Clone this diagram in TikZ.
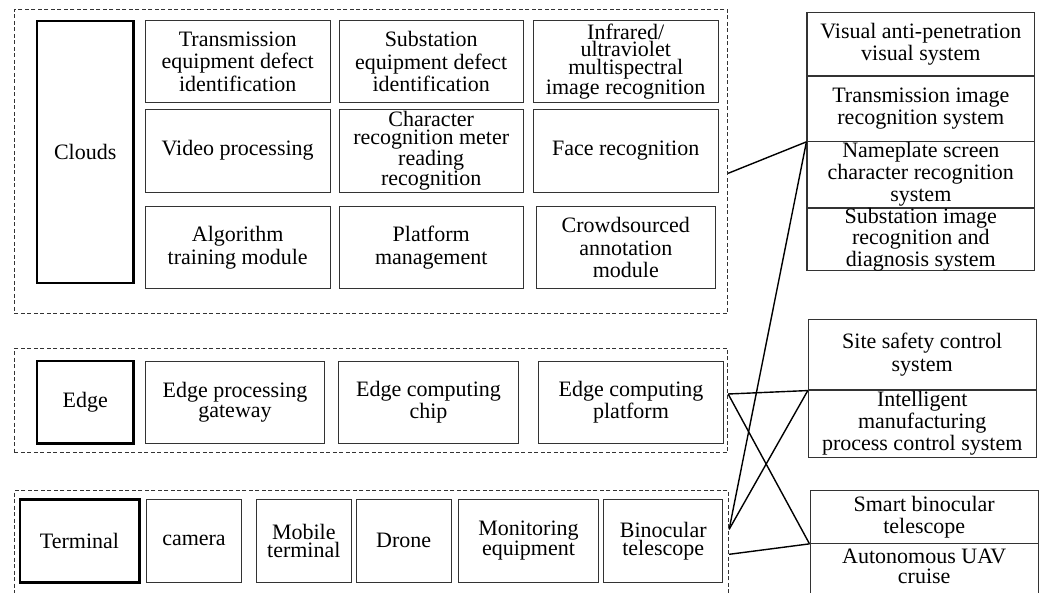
\documentclass[tikz,border=0pt]{standalone}
\usepackage{fontspec}
\setmainfont{Liberation Serif}
\begin{document}
\begin{tikzpicture}[x=1pt,y=-1pt,
  frame/.style={draw=black!80,line width=0.9pt,dash pattern=on 4pt off 2.5pt,inner sep=0pt},
  cell/.style={draw=black!80,line width=1.1pt,inner sep=0pt,align=center,
    font=\fontsize{22}{22.5}\selectfont},
  tight/.style={font=\fontsize{22}{17.6}\selectfont},
  snug/.style={font=\fontsize{22}{18}\selectfont},
  mid/.style={font=\fontsize{22}{20}\selectfont},
  tier/.style={cell,draw=black,line width=2.4pt},
  plain/.style={inner sep=0pt,align=center,font=\fontsize{22}{20}\selectfont},
  link/.style={draw=black,line width=1.4pt}]
\useasboundingbox (0,0) rectangle (1043,592);
\clip (0,0) rectangle (1043,592);

% ---------- layer frames ----------
\node[frame,minimum width=713.4pt,minimum height=303.8pt] (cloudF) at (371,161.4) {};
\node[frame,minimum width=713.4pt,minimum height=104.4pt] (edgeF) at (371,400.5) {};
\node[frame,minimum width=714.4pt,minimum height=129.3pt] (termF) at (371.5,555.35) {};

% ---------- cloud layer ----------
\node[tier,minimum width=96.3pt,minimum height=262pt] (clouds) at (85.2,152) {Clouds};

\node[cell,minimum width=184.7pt,minimum height=82pt] (c11) at (237.7,61.7)
  {Transmission\\equipment defect\\identification};
\node[cell,minimum width=184.3pt,minimum height=82pt] (c12) at (431.2,61.7)
  {Substation\\equipment defect\\identification};
\node[cell,tight,minimum width=184.7pt,minimum height=82pt] (c13) at (625.7,61.7)
  {Infrared/\\ultraviolet\\multispectral\\image recognition};

\node[cell,minimum width=184.7pt,minimum height=82.7pt] (c21) at (237.7,150.7)
  {Video processing};
\node[cell,tight,minimum width=184.3pt,minimum height=82.7pt] (c22) at (431.2,150.7)
  {Character\\recognition meter\\reading\\recognition};
\node[cell,minimum width=184.7pt,minimum height=82.7pt] (c23) at (625.7,150.7)
  {Face recognition};

\node[cell,minimum width=184.7pt,minimum height=82pt] (c31) at (237.7,247.7)
  {Algorithm\\training module};
\node[cell,minimum width=184.3pt,minimum height=82pt] (c32) at (431.2,247.7)
  {Platform\\management};
\node[cell,minimum width=178.9pt,minimum height=82pt] (c33) at (625.8,247.7)
  {Crowdsourced\\annotation\\module};

% ---------- edge layer ----------
\node[tier,minimum width=96.3pt,minimum height=82.3pt] (edge) at (85.2,402.2) {Edge};
\node[cell,mid,minimum width=179.4pt,minimum height=82.3pt] (e1) at (235,402.2)
  {Edge processing\\gateway};
\node[cell,mid,minimum width=179.6pt,minimum height=82.3pt] (e2) at (428.5,402.2)
  {Edge computing\\chip};
\node[cell,mid,minimum width=184.4pt,minimum height=82.3pt] (e3) at (631,402.2)
  {Edge computing\\platform};

% ---------- terminal layer ----------
\node[tier,minimum width=119.6pt,minimum height=83pt] (terminal) at (79.5,540.8) {Terminal};
\node[cell,minimum width=95.4pt,minimum height=83pt] (t1) at (194,540.8) {camera};
\node[cell,snug,minimum width=95pt,minimum height=83pt] (t2) at (303.8,540.8)
  {Mobile\\terminal};
\node[cell,minimum width=95.3pt,minimum height=83pt] (t3) at (403.7,540.8) {Drone};
\node[cell,snug,minimum width=140.3pt,minimum height=83pt] (t4) at (528.5,540.8)
  {Monitoring\\equipment};
\node[cell,snug,minimum width=118.8pt,minimum height=83pt] (t5) at (663.2,540.8)
  {Binocular\\telescope};

% ---------- application systems ----------
\node[cell,minimum width=227.7pt,minimum height=63.3pt] (r1) at (920.8,44.35)
  {Visual anti-penetration\\visual system};
\node[cell,minimum width=227.7pt,minimum height=65.3pt] (r2) at (920.8,108.65)
  {Transmission image\\recognition system};
\node[cell,font=\fontsize{22}{22}\selectfont,minimum width=227.7pt,minimum height=66.7pt] (r3) at (920.8,174.65)
  {Nameplate screen\\character recognition\\system};
\node[cell,font=\fontsize{22}{21.5}\selectfont,minimum width=227.7pt,minimum height=62.7pt] (r4) at (920.8,239.35)
  {Substation image\\recognition and\\diagnosis system};

\node[cell,minimum width=227.7pt,minimum height=70.7pt] (s1) at (922.2,354.65)
  {Site safety control\\system};
\node[cell,font=\fontsize{22}{22}\selectfont,minimum width=227.7pt,minimum height=67.3pt] (s2) at (922.2,423.65)
  {Intelligent\\manufacturing\\process control system};

\node[cell,font=\fontsize{22}{21.7}\selectfont,minimum width=228.3pt,minimum height=52.6pt] (u1) at (924.2,517)
  {Smart binocular\\telescope};
\node[cell,minimum width=228.3pt,minimum height=76.7pt] (u2) at (924.2,581.65) {};
\node[plain] (u2txt) at (924.2,566) {Autonomous UAV\\cruise};

% ---------- connections ----------
\coordinate (cOut) at (cloudF.east |- 0,173.3);
\coordinate (eOut) at (edgeF.east |- 0,394);
\coordinate (tOutA) at (termF.east |- 0,529.3);
\coordinate (tOutB) at (termF.east |- 0,554.3);

\draw[link] (cOut) -- (r2.south west);
\draw[link] (tOutA) -- (r2.south west);
\draw[link] (eOut) -- (s1.south west);
\draw[link] (eOut) -- (u1.south west);
\draw[link] (tOutA) -- (s1.south west);
\draw[link] (tOutB) -- (u1.south west);
\end{tikzpicture}
\end{document}
